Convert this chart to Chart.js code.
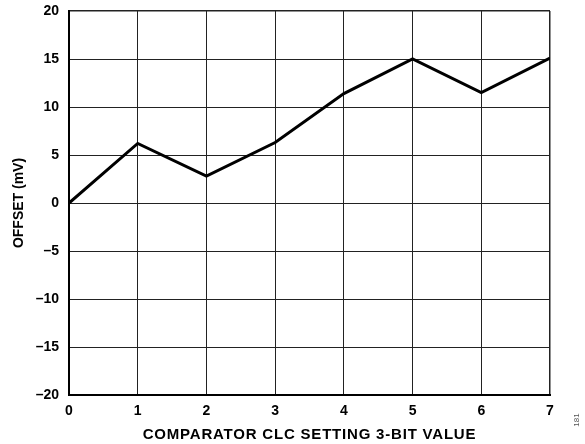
<!DOCTYPE html>
<html>
<head>
<meta charset="utf-8">
<script src="https://cdn.jsdelivr.net/npm/chart.js@4.4.1/dist/chart.umd.min.js"></script>
<style>
  html, body { margin: 0; padding: 0; background: #fff; }
  #wrap { width: 585px; height: 444px; }
</style>
</head>
<body>
<div id="wrap"><canvas id="c" width="585" height="444"></canvas></div>
<script>
const xValues = [0, 1, 2, 3, 4, 5, 6, 7];
const offsetMv = [0, 6.2, 2.8, 6.3, 11.4, 15.0, 11.5, 15.1];
const yTickValues = [-20, -15, -10, -5, 0, 5, 10, 15, 20];
const xTickValues = [0, 1, 2, 3, 4, 5, 6, 7];
const xTitle = 'COMPARATOR CLC SETTING 3-BIT VALUE';
const yTitle = 'OFFSET (mV)';
const figNumber = '181';

const FONT = '"Liberation Sans", Arial, sans-serif';

const figLabel = {
  id: 'figLabel',
  afterDraw(chart) {
    const ctx = chart.ctx;
    ctx.save();
    ctx.translate(577, 420);
    ctx.rotate(-Math.PI / 2);
    ctx.font = '8px ' + FONT;
    ctx.fillStyle = '#555';
    ctx.textAlign = 'center';
    ctx.textBaseline = 'middle';
    ctx.fillText(figNumber, 0, 0);
    ctx.restore();
  }
};

new Chart(document.getElementById('c'), {
  type: 'line',
  data: {
    datasets: [{
      data: xValues.map((x, i) => ({ x: x, y: offsetMv[i] })),
      borderColor: '#000',
      borderWidth: 3,
      pointRadius: 0,
      tension: 0,
      fill: false
    }]
  },
  options: {
    responsive: false,
    animation: false,
    layout: { padding: { top: 11, right: 35, left: 0, bottom: 0 } },
    plugins: { legend: { display: false }, tooltip: { enabled: false } },
    scales: {
      x: {
        type: 'linear',
        min: 0, max: 7,
        afterBuildTicks(scale) { scale.ticks = xTickValues.map(v => ({ value: v })); },
        afterFit(scale) {
          scale.height = 49; scale.paddingLeft = 0; scale.paddingRight = 0;
          if (!scale._spacedTitle) {
            const orig = scale.drawTitle;
            scale.drawTitle = function () {
              this.ctx.save();
              this.ctx.letterSpacing = '0.8px';
              orig.call(this);
              this.ctx.restore();
            };
            scale._spacedTitle = true;
          }
        },
        grid: {
          color: '#222',
          lineWidth: (c) => (c.index === xTickValues.length - 1 ? 1.5 : 1),
          drawTicks: false
        },
        border: { color: '#000', width: 2 },
        ticks: {
          color: '#000',
          padding: 8,
          maxRotation: 0,
          font: { family: FONT, size: 14, weight: 'bold' }
        },
        title: {
          display: true,
          text: xTitle,
          color: '#000',
          padding: { top: 0, bottom: 0 },
          font: { family: FONT, size: 15, weight: 'bold' }
        }
      },
      y: {
        type: 'linear',
        min: -20, max: 20,
        afterBuildTicks(scale) { scale.ticks = yTickValues.map(v => ({ value: v })); },
        afterFit(scale) { scale.width = 69; scale.paddingTop = 0; scale.paddingBottom = 0; },
        grid: {
          color: '#222',
          lineWidth: (c) => (c.index === yTickValues.length - 1 ? 1.5 : 1),
          drawTicks: false
        },
        border: { color: '#000', width: 2 },
        ticks: {
          color: '#000',
          padding: 10,
          font: { family: FONT, size: 14, weight: 'bold' },
          callback: (v) => String(v).replace('-', '\u2013')
        },
        title: {
          display: true,
          text: yTitle,
          color: '#000',
          padding: { top: 11, bottom: 0 },
          font: { family: FONT, size: 14, weight: 'bold' }
        }
      }
    }
  },
  plugins: [figLabel]
});
</script>
</body>
</html>
